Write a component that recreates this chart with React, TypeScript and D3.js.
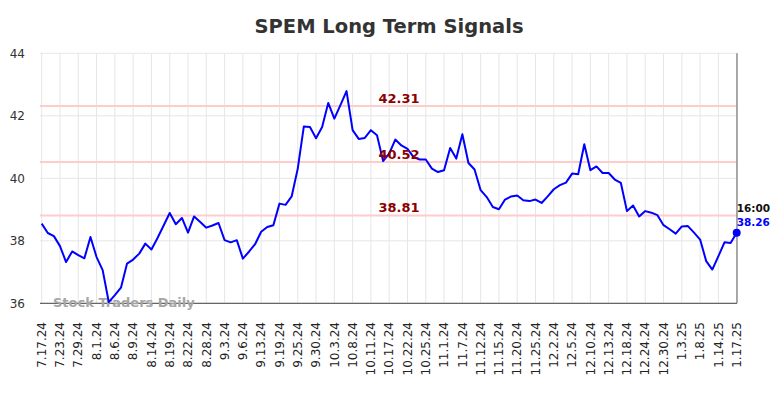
import React, { useEffect, useRef } from "react";
import * as d3 from "d3";

const tickLabels = [
  "7.17.24", "7.23.24", "7.29.24", "8.1.24", "8.6.24", "8.9.24", "8.14.24", "8.19.24",
  "8.22.24", "8.28.24", "9.3.24", "9.6.24", "9.13.24", "9.19.24", "9.25.24", "9.30.24",
  "10.3.24", "10.8.24", "10.11.24", "10.17.24", "10.22.24", "10.25.24", "11.1.24", "11.7.24",
  "11.12.24", "11.15.24", "11.20.24", "11.25.24", "12.2.24", "12.5.24", "12.10.24", "12.13.24",
  "12.18.24", "12.24.24", "12.30.24", "1.3.25", "1.8.25", "1.14.25", "1.17.25",
];

// closing values, one per trading session
const prices = [
  38.55, 38.25, 38.15, 37.83, 37.32, 37.66, 37.54, 37.44, 38.12, 37.48,
  37.06, 36.04, 36.26, 36.5, 37.27, 37.4, 37.59, 37.91, 37.72, 38.09,
  38.49, 38.89, 38.53, 38.73, 38.26, 38.78, 38.6, 38.42, 38.49, 38.57,
  38.02, 37.95, 38.02, 37.43, 37.65, 37.89, 38.29, 38.44, 38.5, 39.19,
  39.15, 39.42, 40.31, 41.66, 41.64, 41.28, 41.64, 42.41, 41.91, 42.34,
  42.79, 41.54, 41.26, 41.29, 41.54, 41.38, 40.55, 40.79, 41.24, 41.05,
  40.94, 40.68, 40.6, 40.6, 40.31, 40.2, 40.26, 40.97, 40.63, 41.41,
  40.49, 40.28, 39.62, 39.4, 39.08, 39.01, 39.32, 39.42, 39.45, 39.3,
  39.27, 39.32, 39.21, 39.42, 39.65, 39.78, 39.86, 40.15, 40.13, 41.09,
  40.26, 40.38, 40.17, 40.17, 39.96, 39.85, 38.95, 39.13, 38.78, 38.95,
  38.9, 38.82, 38.5, 38.37, 38.23, 38.46, 38.47, 38.26, 38.04, 37.35,
  37.08, 37.51, 37.95, 37.93, 38.26,
];

const signalLevels = [42.31, 40.52, 38.81];
const yTicks = [36, 38, 40, 42, 44];
const lastTime = "16:00";

const App = () => {
  const chartRef = useRef<SVGSVGElement>(null);

  useEffect(() => {
    const width = 784;
    const height = 398;
    const left = 40;
    const right = 737;
    const top = 53.3;
    const bottom = 303.3;

    const svg = d3.select(chartRef.current);
    svg.selectAll("*").remove();
    svg.attr("width", width).attr("height", height);

    const xScale = d3.scaleLinear().domain([0, prices.length - 1]).range([41.7, 736.7]);
    const yScale = d3.scaleLinear().domain([36, 44]).range([bottom, top]);

    // grid
    const grid = svg.append("g");
    grid
      .selectAll(".hgrid")
      .data(yTicks)
      .enter()
      .append("line")
      .attr("x1", left)
      .attr("x2", right)
      .attr("y1", (d) => yScale(d))
      .attr("y2", (d) => yScale(d))
      .attr("stroke", "#e6e6e6")
      .attr("stroke-width", 1);
    grid
      .selectAll(".vgrid")
      .data(tickLabels)
      .enter()
      .append("line")
      .attr("x1", (d, i) => xScale(i * 3))
      .attr("x2", (d, i) => xScale(i * 3))
      .attr("y1", top)
      .attr("y2", bottom)
      .attr("stroke", "#e6e6e6")
      .attr("stroke-width", 1);

    // y labels
    svg
      .append("g")
      .selectAll("text")
      .data(yTicks)
      .enter()
      .append("text")
      .attr("x", 25)
      .attr("y", (d) => yScale(d))
      .attr("dy", "0.35em")
      .attr("text-anchor", "end")
      .attr("font-family", "DejaVu Sans")
      .attr("font-size", 12)
      .attr("fill", "#333")
      .text((d) => d);

    // x labels
    svg
      .append("g")
      .selectAll("text")
      .data(tickLabels)
      .enter()
      .append("text")
      .attr("transform", (d, i) => `translate(${xScale(i * 3)},322) rotate(-90)`)
      .attr("dy", "0.35em")
      .attr("text-anchor", "end")
      .attr("font-family", "DejaVu Sans")
      .attr("font-size", 12)
      .attr("fill", "#222")
      .text((d) => d);

    // signal levels
    signalLevels.forEach((v) => {
      svg
        .append("line")
        .attr("x1", left)
        .attr("x2", right)
        .attr("y1", yScale(v))
        .attr("y2", yScale(v))
        .attr("stroke", "#ffcccc")
        .attr("stroke-width", 2);
    });

    // axes frame
    svg
      .append("line")
      .attr("x1", left)
      .attr("x2", right)
      .attr("y1", bottom)
      .attr("y2", bottom)
      .attr("stroke", "#666")
      .attr("stroke-width", 1.2);
    svg
      .append("line")
      .attr("x1", right)
      .attr("x2", right)
      .attr("y1", top)
      .attr("y2", bottom)
      .attr("stroke", "#777")
      .attr("stroke-width", 1.2);

    // watermark
    svg
      .append("text")
      .attr("x", 53)
      .attr("y", 306.5)
      .attr("font-family", "DejaVu Sans")
      .attr("font-weight", "bold")
      .attr("font-size", 13)
      .attr("fill", "#a6a6a6")
      .text("Stock Traders Daily");

    // price line
    const line = d3
      .line<number>()
      .x((d, i) => xScale(i))
      .y((d) => yScale(d));
    svg
      .append("path")
      .datum(prices)
      .attr("fill", "none")
      .attr("stroke", "#0000ff")
      .attr("stroke-width", 2)
      .attr("stroke-linejoin", "round")
      .attr("d", line);

    // level labels
    signalLevels.forEach((v) => {
      svg
        .append("text")
        .attr("x", 399)
        .attr("y", yScale(v) - 3.5)
        .attr("text-anchor", "middle")
        .attr("font-family", "DejaVu Sans")
        .attr("font-weight", "bold")
        .attr("font-size", 13)
        .attr("fill", "#8b0000")
        .text(v.toFixed(2));
    });

    // last point
    const lastIdx = prices.length - 1;
    const last = prices[lastIdx];
    svg
      .append("circle")
      .attr("cx", xScale(lastIdx))
      .attr("cy", yScale(last))
      .attr("r", 4)
      .attr("fill", "#0000ff");
    svg
      .append("text")
      .attr("x", xScale(lastIdx))
      .attr("y", yScale(last) - 20.5)
      .attr("font-family", "DejaVu Sans")
      .attr("font-weight", "bold")
      .attr("font-size", 10.5)
      .attr("fill", "#111")
      .text(lastTime);
    svg
      .append("text")
      .attr("x", xScale(lastIdx))
      .attr("y", yScale(last) - 6.5)
      .attr("font-family", "DejaVu Sans")
      .attr("font-weight", "bold")
      .attr("font-size", 10.5)
      .attr("fill", "#0000ff")
      .text(last.toFixed(2));

    // title
    svg
      .append("text")
      .attr("x", 389)
      .attr("y", 33)
      .attr("text-anchor", "middle")
      .attr("font-family", "DejaVu Sans")
      .attr("font-weight", "bold")
      .attr("font-size", 19.5)
      .attr("fill", "#333")
      .text("SPEM Long Term Signals");
  }, []);

  return (
    <div style={{ position: "absolute", left: 0, top: 0, width: 784, height: 398 }}>
      <svg ref={chartRef}></svg>
    </div>
  );
};

export default App;
